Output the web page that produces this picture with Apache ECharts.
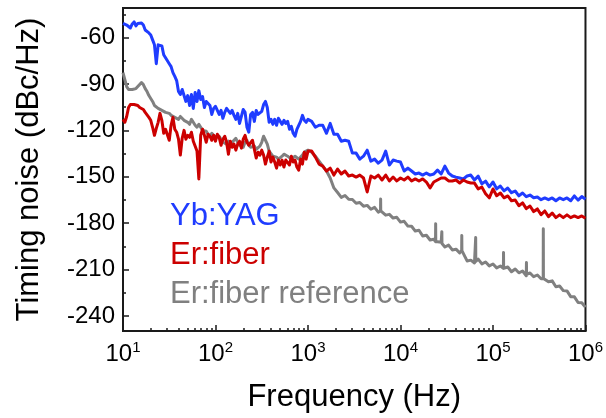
<!DOCTYPE html>
<html><head><meta charset="utf-8">
<script src="https://cdn.jsdelivr.net/npm/echarts@6/dist/echarts.min.js"></script>
<style>html,body{margin:0;padding:0;background:#fff}#c{width:606px;height:418px}</style>
</head><body><div id="c"></div>
<script>
// Frequency grid (Hz)
const freqHz = [
10, 10.47, 10.96, 11.48, 12.02, 12.59, 13.18, 13.8, 14.45, 15.14, 15.85, 16.6, 17.38, 18.2, 19.05, 19.95, 20.89, 21.88, 22.91, 23.99, 25.12, 26.3, 27.54, 28.84, 30.2, 31.62, 33.11, 34.67, 36.31, 38.02, 39.81, 41.69, 43.65, 45.71, 47.86, 50.12, 52.48, 54.95, 57.54, 60.26, 63.1, 66.07, 69.18, 72.44, 75.86, 79.43, 83.18, 87.1, 91.2, 95.5,
100, 104.7, 109.6, 114.8, 120.2, 125.9, 131.8, 138, 144.5, 151.4, 158.5, 166, 173.8, 182, 190.5, 199.5, 208.9, 218.8, 229.1, 239.9, 251.2, 263, 275.4, 288.4, 302, 316.2, 331.1, 346.7, 363.1, 380.2, 398.1, 416.9, 436.5, 457.1, 478.6, 501.2, 524.8, 549.5, 575.4, 602.6, 631, 660.7, 691.8, 724.4, 758.6, 794.3, 831.8, 871, 912, 955,
1000,
1096, 1202, 1318, 1445, 1585, 1738, 1905, 2089, 2291, 2512, 2754, 3020, 3311, 3631, 3981, 4365, 4786, 5248, 5754, 6310, 6918, 7586, 8318, 9120, 10000,
10960, 12020, 13180, 14450, 15850, 17380, 19050, 20890, 22910, 25120, 27540, 30200, 33110, 36310, 39810, 43650, 47860, 52480, 57540, 63100, 69180, 75860, 83180, 91200, 100000,
109600, 120200, 131800, 144500, 158500, 173800, 190500, 208900, 229100, 251200, 275400, 302000, 331100, 363100, 398100, 436500, 478600, 524800, 575400, 631000, 691800, 758600, 831800, 912000, 1000000
];
// Timing noise (dBc/Hz)
const ybYag = [
-50.8, -49.7, -51.9, -53.1, -53.8, -51.2, -49.9, -52.5, -50.9, -49.9,
-50.6, -51.9, -55.1, -54.4, -57.0, -58.3, -61.5, -64.7, -76.9, -64.7,
-65.4, -65.4, -71.1, -73.1, -73.7, -76.9, -78.8, -82.7, -85.1, -87.8,
-94.9, -96.8, -93.6, -97.5, -101.3, -97.5, -103.9, -96.8, -105.8, -95.5,
-101.3, -94.3, -100.0, -98.1, -105.2, -101.3, -102.6, -103.9, -109.7, -105.8,
-104.5, -107.1, -109.7, -107.1, -112.2, -108.4, -105.8, -105.2, -109.0, -107.1,
-110.3, -112.9, -109.0, -115.5, -111.0, -106.5, -108.4, -118.0, -121.2, -109.7,
-108.4, -114.2, -107.1, -109.7, -109.7, -107.7, -103.3, -101.3, -105.2, -114.8,
-112.9, -116.1, -112.9, -116.7, -112.2, -114.2, -116.1, -113.5, -115.5, -114.2,
-119.3, -117.4, -121.9, -123.8, -119.3, -116.7, -114.2, -110.3, -113.5, -114.8,
-112.9,
-114.2, -118.0, -116.7, -116.7, -121.9, -115.5, -122.5, -122.5, -127.0, -126.4,
-127.0, -134.7, -134.7, -138.6, -136.7, -132.8, -139.9, -138.6, -141.2, -139.2,
-133.4, -142.4, -139.2, -139.9, -140.5, -146.3, -144.4, -146.3, -148.2, -147.6,
-148.9, -147.6, -148.9, -148.2, -145.7, -148.2, -143.1, -147.6, -149.5, -150.2,
-150.8, -151.4, -149.5, -148.9, -152.1, -149.6, -154.6, -152.8, -156.5, -153.4,
-157.8, -156.0, -159.1, -157.3, -160.3, -159.2, -162.3, -160.5, -162.9, -161.8,
-163.6, -163.1, -164.8, -163.7, -164.8, -163.7, -165.5, -163.7, -164.8, -163.7,
-165.5, -162.4, -165.1, -162.8, -164.5
];
const erFiber = [
-112.9, -114.8, -111.0, -105.2, -103.3, -102.6, -103.3, -102.6, -103.9, -105.2,
-104.5, -106.5, -108.4, -107.7, -111.6, -113.5, -118.0, -123.2, -118.7, -114.8,
-109.0, -113.5, -121.9, -119.3, -119.3, -126.4, -116.7, -111.6, -119.3, -121.2,
-125.7, -136.0, -125.1, -120.0, -125.7, -123.2, -124.5, -121.2, -127.0, -126.4,
-133.4, -151.4, -123.2, -119.3, -123.2, -127.7, -122.5, -123.8, -126.4, -123.2,
-127.0, -122.5, -124.5, -129.6, -125.7, -123.8, -127.7, -135.4, -127.0, -130.9,
-128.9, -132.8, -128.9, -127.0, -131.5, -125.7, -123.2, -127.7, -129.6, -129.6,
-126.4, -132.2, -137.9, -134.1, -136.0, -132.8, -136.0, -141.8, -137.3, -133.4,
-140.5, -137.3, -140.5, -144.4, -139.2, -142.4, -139.2, -143.7, -139.2, -138.6,
-142.4, -136.7, -140.5, -139.2, -143.7, -145.7, -138.6, -141.8, -134.1, -138.6,
-133.4,
-133.4, -137.3, -141.8, -143.1, -146.3, -144.4, -148.9, -145.0, -148.2, -146.3,
-149.5, -148.9, -150.2, -148.9, -150.8, -159.8, -149.5, -150.8, -148.9, -152.1,
-148.9, -152.7, -150.2, -152.7, -150.8, -152.1, -150.2, -152.7, -151.4, -152.7,
-151.4, -153.4, -157.2, -153.4, -152.1, -150.8, -150.8, -152.7, -152.7, -152.1,
-154.0, -152.1, -153.4, -154.0, -154.1, -157.8, -156.7, -161.0, -163.6, -157.9,
-162.3, -160.5, -163.6, -162.4, -165.5, -165.0, -168.7, -166.9, -170.6, -168.9,
-172.5, -170.8, -174.5, -172.1, -175.8, -173.4, -176.4, -174.6, -176.4, -174.6,
-176.4, -175.3, -176.4, -175.3, -176.8
];
const erFiberRef = [
-82.7, -87.2, -91.7, -93.6, -93.6, -93.6, -94.3, -93.0, -92.3, -90.4,
-89.1, -90.4, -93.0, -94.9, -97.5, -99.4, -101.3, -103.9, -104.5, -105.8,
-105.2, -107.1, -106.5, -108.4, -108.4, -109.0, -110.3, -111.0, -111.6, -111.0,
-112.9, -111.0, -112.2, -113.5, -113.5, -114.8, -116.1, -112.9, -114.8, -116.7,
-118.0, -116.1, -118.0, -120.0, -121.2, -120.6, -122.5, -123.8, -121.9, -122.5,
-124.5, -125.1, -123.8, -125.7, -127.7, -127.0, -128.9, -127.0, -129.6, -127.7,
-128.3, -125.1, -127.7, -129.6, -128.9, -130.9, -127.7, -126.4, -129.6, -130.9,
-130.9, -130.2, -132.2, -133.4, -130.2, -127.7, -123.8, -123.2, -128.9, -133.4,
-134.1, -136.7, -136.7, -137.3, -138.6, -137.9, -136.7, -135.4, -135.4, -136.7,
-137.3, -138.6, -137.9, -136.7, -137.3, -138.6, -137.3, -136.0, -134.1, -133.4,
-132.8,
-134.1, -136.7, -139.9, -143.1, -146.3, -150.8, -157.2, -160.2, -163.3, -162.1,
-164.5, -164.7, -167.1, -166.6, -169.0, -168.5, -171.0, -169.8, -172.9, -171.7,
-174.8, -174.3, -176.7, -176.2, -179.3, -178.8, -181.9, -182.0, -185.1, -184.6,
-188.3, -187.8, -190.9, -190.4, -192.8, -192.3, -195.4, -194.2, -197.3, -196.8,
-199.2, -196.8, -204.4, -203.9, -205.7, -203.2, -206.3, -205.1, -207.6, -206.4,
-208.9, -207.7, -210.1, -208.3, -211.4, -209.6, -212.1, -210.9, -214.0, -212.2,
-214.6, -213.5, -215.9, -215.4, -217.9, -217.3, -221.1, -220.6, -223.6, -223.8,
-227.5, -227.6, -231.3, -231.5, -234.3
];
// Narrow spurs on the reference trace
const refSpikeHz = [6100, 24000, 28000, 46000, 65000, 130000, 230000, 350000];
const refSpikePeak = [-164.3, -180.3, -185.5, -188.0, -189.3, -199.0, -205.4, -183.6];
const refSpikeBase = [-172.0, -191.9, -193.2, -197.7, -204.8, -209.2, -213.1, -215.7];

const yTicks = [-60, -90, -120, -150, -180, -210, -240];
const yMinorTicks = [-45, -75, -105, -135, -165, -195, -225];
const xMinorTicks = [20,30,40,50,60,70,80,90,200,300,400,500,600,700,800,900,2000,3000,4000,5000,6000,7000,8000,9000,
  20000,30000,40000,50000,60000,70000,80000,90000,200000,300000,400000,500000,600000,700000,800000,900000];
const seriesNames = ['Yb:YAG', 'Er:fiber', 'Er:fiber reference'];
const colors = ['#1f3cff', '#cc0000', '#808080'];

const FONT = 'Liberation Sans, Arial, Helvetica, sans-serif';
const AX = '#1a1a1a';

function pairs(vals) { return freqHz.map((f, i) => [f, vals[i]]); }
const refData = pairs(erFiberRef);
refSpikeHz.forEach((f, i) => {
  refData.push([f * 0.997, refSpikeBase[i]], [f, refSpikePeak[i]], [f * 1.003, refSpikeBase[i]]);
});
refData.sort((a, b) => a[0] - b[0]);

const chart = echarts.init(document.getElementById('c'), null, {renderer: 'canvas'});
const lineCommon = {type: 'line', showSymbol: false, symbol: 'none', animation: false, sampling: null, clip: true};

chart.setOption({
  animation: false,
  backgroundColor: '#fff',
  grid: {left: 123, right: 19, top: 8, bottom: 85, show: true, borderColor: AX, borderWidth: 2, backgroundColor: 'transparent'},
  legend: {
    orient: 'vertical', left: 160, top: 196, icon: 'none', itemWidth: 0, itemHeight: 31, itemGap: 8,
    selectedMode: false,
    textStyle: {fontSize: 31, fontFamily: FONT, padding: 0},
    data: seriesNames.map((n, i) => ({name: n, textStyle: {color: colors[i]}}))
  },
  xAxis: [{
    type: 'log', logBase: 10, min: 10, max: 1000000,
    name: 'Frequency (Hz)', nameLocation: 'middle', nameGap: 51,
    nameTextStyle: {fontSize: 31, fontFamily: FONT, color: '#000'},
    axisLine: {lineStyle: {color: AX, width: 2}},
    axisTick: {inside: true, length: 6, lineStyle: {color: AX, width: 1.5}},
    splitLine: {show: false},
    axisLabel: {
      margin: 9,
      formatter: v => '{b|10}{s|' + Math.round(Math.log10(v)) + '}',
      rich: {
        b: {fontSize: 24, fontFamily: FONT, color: '#000', lineHeight: 28},
        s: {fontSize: 15, fontFamily: FONT, color: '#000', lineHeight: 15, verticalAlign: 'top'}
      }
    }
  }, {
    type: 'log', logBase: 10, min: 10, max: 1000000, position: 'bottom',
    axisLine: {show: false}, axisLabel: {show: false}, splitLine: {show: false},
    axisTick: {inside: true, length: 3, customValues: xMinorTicks, lineStyle: {color: AX, width: 1.5}}
  }],
  yAxis: [{
    type: 'value', min: -249.7, max: -40.9, position: 'left',
    name: 'Timing noise (dBc/Hz)', nameLocation: 'middle', nameGap: 78,
    nameTextStyle: {fontSize: 31, fontFamily: FONT, color: '#000'},
    axisLine: {show: true, lineStyle: {color: AX, width: 2}},
    axisTick: {show: true, inside: true, length: 6, customValues: yTicks, lineStyle: {color: AX, width: 1.5}},
    axisLabel: {customValues: yTicks, margin: 8, fontSize: 24, fontFamily: FONT, color: '#000'},
    splitLine: {show: false}
  }, {
    type: 'value', min: -249.7, max: -40.9, position: 'left',
    axisLine: {show: false}, axisLabel: {show: false}, splitLine: {show: false},
    axisTick: {show: true, inside: true, length: 3, customValues: yMinorTicks, lineStyle: {color: AX, width: 1.5}}
  }],
  series: [
    Object.assign({}, lineCommon, {name: seriesNames[2], data: refData, z: 2, color: colors[2], lineStyle: {width: 3, color: colors[2], join: 'round'}}),
    Object.assign({}, lineCommon, {name: seriesNames[0], data: pairs(ybYag), z: 3, color: colors[0], lineStyle: {width: 3, color: colors[0], join: 'round'}}),
    Object.assign({}, lineCommon, {name: seriesNames[1], data: pairs(erFiber), z: 4, color: colors[1], lineStyle: {width: 3, color: colors[1], join: 'round'}})
  ]
});
</script></body></html>
